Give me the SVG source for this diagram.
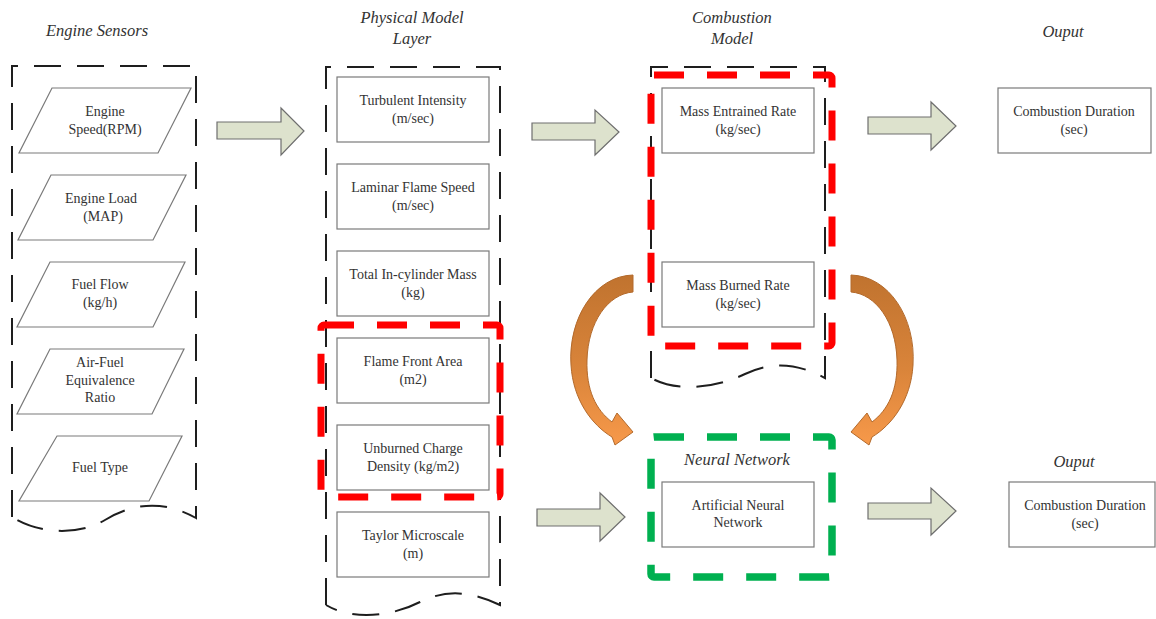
<svg xmlns="http://www.w3.org/2000/svg" width="1156" height="619" viewBox="0 0 1156 619">
  <defs>
    <style>
      .bg { fill: #ffffff; }
      .hdr { font-family: "Liberation Serif", "Times New Roman", serif; font-style: italic; font-size: 16.5px; fill: #333; text-anchor: middle; }
      .lbl { font-family: "Liberation Serif", "Times New Roman", serif; font-size: 14px; fill: #333; text-anchor: middle; }
      .box { fill: #ffffff; stroke: #7a7a7a; stroke-width: 1.2; }
      .para { fill: #ffffff; stroke: #7a7a7a; stroke-width: 1.2; }
      .grp { fill: none; stroke: #1e1e1e; stroke-width: 2; stroke-dasharray: 27 16; }
      .red { fill: none; stroke: #ff0000; stroke-width: 7; stroke-dasharray: 30 23; }
      .green { fill: none; stroke: #00b050; stroke-width: 7.5; stroke-dasharray: 30 23; }
      .blk { fill: #dde2cd; stroke: #6e6e6e; stroke-width: 1.2; }
      .curve { fill: url(#orangeGrad); stroke: #b36a2c; stroke-width: 1; }
    </style>
    <linearGradient id="orangeGrad" x1="0" y1="0" x2="0" y2="1">
      <stop offset="0" stop-color="#c0732f"/>
      <stop offset="0.55" stop-color="#d9843a"/>
      <stop offset="1" stop-color="#f7994a"/>
    </linearGradient>
  </defs>

  <rect class="bg" x="0" y="0" width="1156" height="619"/>

  <!-- column headings -->
  <text class="hdr" x="97" y="36">Engine Sensors</text>
  <text class="hdr" x="412" y="23">Physical Model</text>
  <text class="hdr" x="412" y="44">Layer</text>
  <text class="hdr" x="732" y="23">Combustion</text>
  <text class="hdr" x="732" y="44">Model</text>
  <text class="hdr" x="1063" y="37">Ouput</text>
  <text class="hdr" x="1074" y="467">Ouput</text>

  <!-- group outlines -->
  <g id="sensors-group">
    <path class="grp" d="M12,517 L12,66 L196,66 L196,518 C160,498 130,505 105,520 C80,535 40,535 12,517"/>
  </g>
  <g id="physical-group">
    <path class="grp" d="M326,605 L326,67 L500,67 L500,605 C465,588 440,592 420,602 C395,615 355,622 326,605"/>
  </g>
  <g id="combustion-group">
    <path class="grp" d="M651,378 L651,67 L825,67 L825,378 C795,362 770,362 745,374 C720,386 680,394 651,378"/>
  </g>

  <!-- sensor inputs -->
  <g id="engine-speed">
    <polygon class="para" points="52,88 191,88 158,153 19,153"/>
    <text class="lbl" x="105" y="116">Engine</text>
    <text class="lbl" x="105" y="134">Speed(RPM)</text>
  </g>
  <g id="engine-load">
    <polygon class="para" points="51,175 186,175 153,240 18,240"/>
    <text class="lbl" x="101" y="203">Engine Load</text>
    <text class="lbl" x="103" y="221">(MAP)</text>
  </g>
  <g id="fuel-flow">
    <polygon class="para" points="50,262 185,262 153,327 17,327"/>
    <text class="lbl" x="100" y="289">Fuel Flow</text>
    <text class="lbl" x="100" y="307">(kg/h)</text>
  </g>
  <g id="air-fuel">
    <polygon class="para" points="50,349 184,349 152,414 17,414"/>
    <text class="lbl" x="100" y="367">Air-Fuel</text>
    <text class="lbl" x="100" y="385">Equivalence</text>
    <text class="lbl" x="100" y="402">Ratio</text>
  </g>
  <g id="fuel-type">
    <polygon class="para" points="57,436 182,436 149,501 19,501"/>
    <text class="lbl" x="100" y="472">Fuel Type</text>
  </g>

  <!-- physical model quantities -->
  <g id="turbulent-intensity">
    <rect class="box" x="337" y="77" width="152" height="65"/>
    <text class="lbl" x="413" y="105">Turbulent Intensity</text>
    <text class="lbl" x="413" y="123">(m/sec)</text>
  </g>
  <g id="laminar-flame-speed">
    <rect class="box" x="337" y="164" width="152" height="65"/>
    <text class="lbl" x="413" y="192">Laminar Flame Speed</text>
    <text class="lbl" x="413" y="210">(m/sec)</text>
  </g>
  <g id="total-mass">
    <rect class="box" x="337" y="251" width="152" height="65"/>
    <text class="lbl" x="413" y="279">Total In-cylinder Mass</text>
    <text class="lbl" x="413" y="297">(kg)</text>
  </g>
  <g id="flame-front-area">
    <rect class="box" x="337" y="338" width="152" height="65"/>
    <text class="lbl" x="413" y="366">Flame Front Area</text>
    <text class="lbl" x="413" y="384">(m2)</text>
  </g>
  <g id="unburned-density">
    <rect class="box" x="337" y="425" width="152" height="65"/>
    <text class="lbl" x="413" y="453">Unburned Charge</text>
    <text class="lbl" x="413" y="471">Density (kg/m2)</text>
  </g>
  <g id="taylor-microscale">
    <rect class="box" x="337" y="512" width="152" height="65"/>
    <text class="lbl" x="413" y="540">Taylor Microscale</text>
    <text class="lbl" x="413" y="558">(m)</text>
  </g>

  <!-- combustion model quantities -->
  <g id="mass-entrained">
    <rect class="box" x="662" y="88" width="152" height="65"/>
    <text class="lbl" x="738" y="116">Mass Entrained Rate</text>
    <text class="lbl" x="738" y="134">(kg/sec)</text>
  </g>
  <g id="mass-burned">
    <rect class="box" x="662" y="262" width="152" height="65"/>
    <text class="lbl" x="738" y="290">Mass Burned Rate</text>
    <text class="lbl" x="738" y="308">(kg/sec)</text>
  </g>

  <!-- outputs -->
  <g id="output-physical">
    <rect class="box" x="998" y="88" width="153" height="65"/>
    <text class="lbl" x="1074" y="116">Combustion Duration</text>
    <text class="lbl" x="1074" y="134">(sec)</text>
  </g>
  <g id="output-ann">
    <rect class="box" x="1009" y="482" width="146" height="65"/>
    <text class="lbl" x="1085" y="510">Combustion Duration</text>
    <text class="lbl" x="1085" y="528">(sec)</text>
  </g>

  <!-- neural network -->
  <g id="ann">
    <text class="hdr" x="737" y="465">Neural Network</text>
    <rect class="box" x="662" y="482" width="152" height="65"/>
    <text class="lbl" x="738" y="510">Artificial Neural</text>
    <text class="lbl" x="738" y="527">Network</text>
  </g>

  <!-- highlighted subsets -->
  <g id="highlight-physical">
    <rect class="red" x="321" y="325" width="179" height="172" rx="3"/>
  </g>
  <g id="highlight-combustion">
    <rect class="red" x="651" y="75" width="181" height="271" rx="3"/>
  </g>
  <g id="highlight-ann">
    <rect class="green" x="651" y="437" width="181" height="140" rx="3"/>
  </g>

  <!-- connectors -->
  <g id="connectors">
    <polygon class="blk" points="217,122 281,122 281,108 304,131 281,155 281,139 217,139"/>
    <polygon class="blk" points="532,123 595,123 595,110 619,132 595,155 595,140 532,140"/>
    <polygon class="blk" points="868,117 931,117 931,102 956,126 931,150 931,134 868,134"/>
    <polygon class="blk" points="537,509 600,509 600,493 625,517 600,541 600,526 537,526"/>
    <polygon class="blk" points="868,503 931,503 931,488 956,511 931,535 931,519 868,519"/>
    <path class="curve" d="M633,275 C595,276 568,318 571,365 C573,400 592,425 612,437 L615,445 L633,432 L617,413 L612,422 C596,410 586,390 587,360 C588,322 608,294 633,292 Z"/>
    <path class="curve" d="M851,275 C889,276 916,318 913,365 C911,400 892,425 872,437 L869,445 L851,432 L867,413 L872,422 C888,410 898,390 897,360 C896,322 876,294 851,292 Z"/>
  </g>
</svg>
